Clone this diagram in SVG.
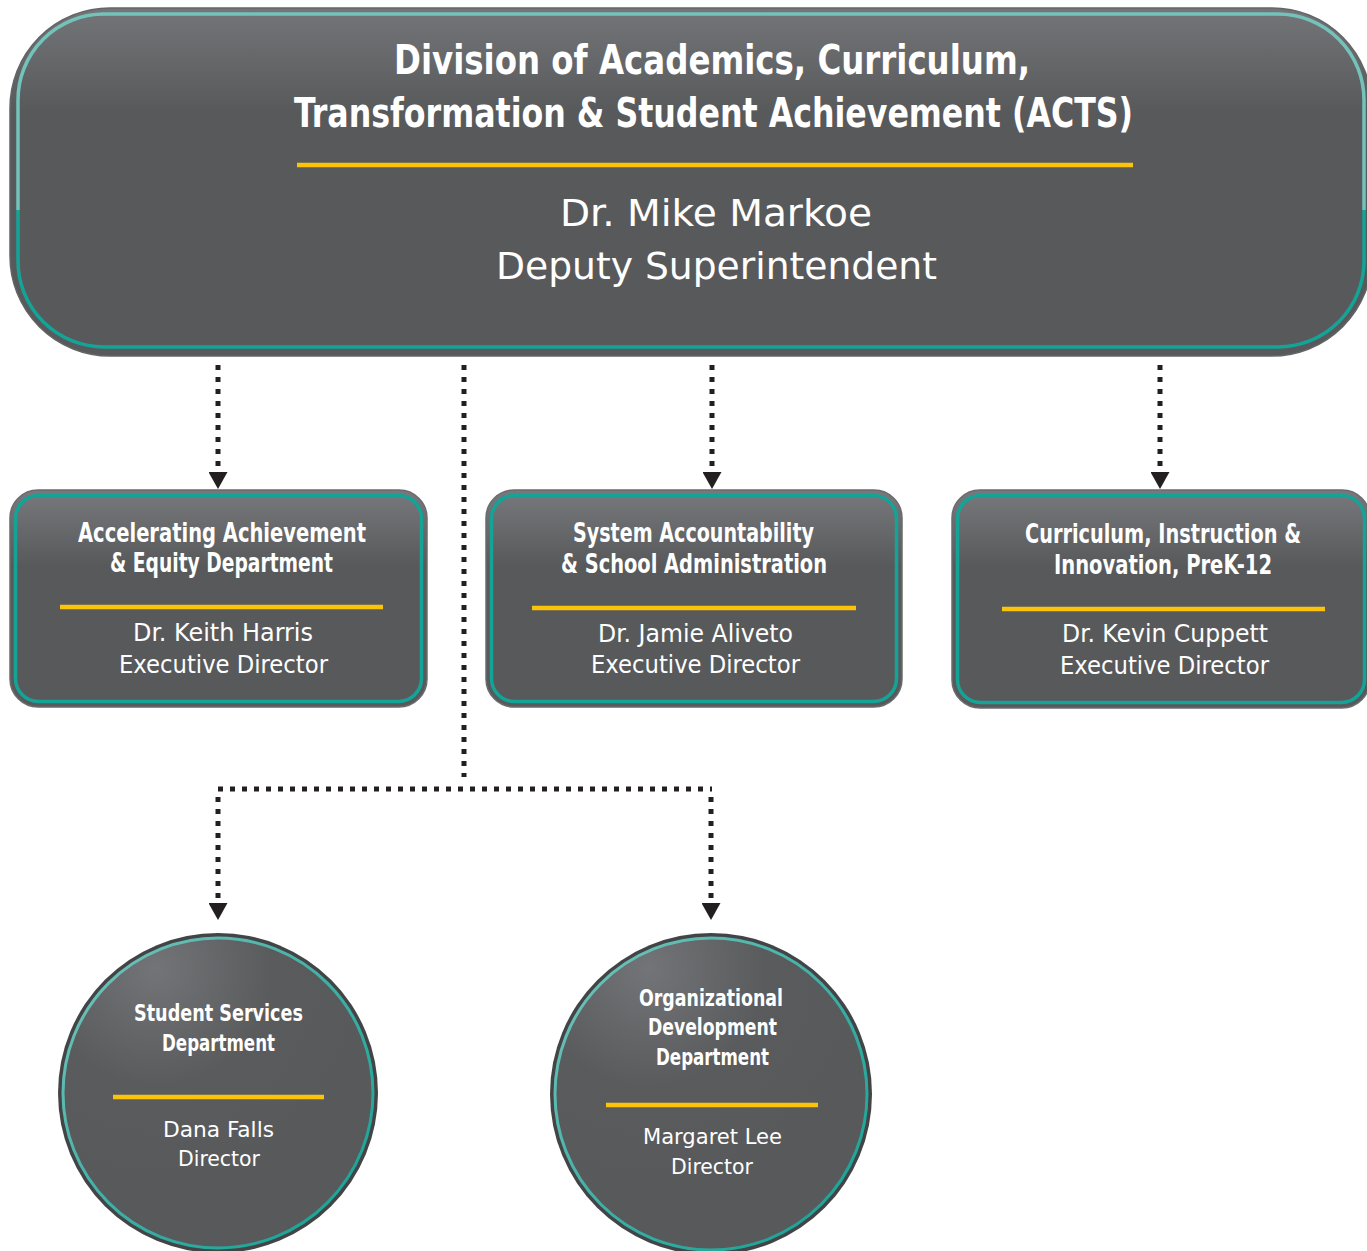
<svg xmlns="http://www.w3.org/2000/svg" width="1367" height="1251" viewBox="0 0 1367 1251">
<defs>
<linearGradient id="gBig" x1="0" y1="0" x2="0" y2="1">
<stop offset="0" stop-color="#747578"/>
<stop offset="0.3" stop-color="#58595b"/>
<stop offset="1" stop-color="#58595b"/>
</linearGradient>
<linearGradient id="gBox" x1="0" y1="0" x2="0" y2="1">
<stop offset="0" stop-color="#78797c"/>
<stop offset="0.35" stop-color="#58595b"/>
<stop offset="1" stop-color="#58595b"/>
</linearGradient>
<linearGradient id="tealBig" x1="0" y1="0" x2="0" y2="1">
<stop offset="0" stop-color="#74c3ba"/>
<stop offset="0.59" stop-color="#74c3ba"/>
<stop offset="0.59" stop-color="#14a397"/>
<stop offset="1" stop-color="#14a397"/>
</linearGradient>
<radialGradient id="gCirc" cx="0.3" cy="0.1" r="0.75">
<stop offset="0" stop-color="#737477"/>
<stop offset="0.5" stop-color="#5a5b5d"/>
<stop offset="1" stop-color="#58595b"/>
</radialGradient>
<linearGradient id="tealCirc" x1="0" y1="0" x2="1" y2="1">
<stop offset="0" stop-color="#78c4bb"/>
<stop offset="0.5" stop-color="#3fb0a6"/>
<stop offset="1" stop-color="#0fa194"/>
</linearGradient>
<marker id="arr" viewBox="0 0 17 19" refX="0" refY="9.5" markerWidth="17" markerHeight="19" markerUnits="userSpaceOnUse" orient="auto">
<polygon points="0,0 17,9.5 0,19" fill="#231f20"/>
</marker>
<style>
.bold{font-family:"Liberation Sans Narrow","DejaVu Sans Condensed","Liberation Sans",sans-serif;font-weight:bold;fill:#ffffff;text-anchor:middle}
.reg{font-family:"Liberation Sans Narrow","DejaVu Sans Condensed","Liberation Sans",sans-serif;font-weight:normal;fill:#ffffff;text-anchor:middle}
.bar{stroke:#fcc30b;stroke-width:4.5}
.boxOuter{fill:url(#gBox);stroke:#6a6b6e;stroke-width:1.5}
.boxInner{fill:none;stroke:#14a397;stroke-width:3.5}
.circOuter{fill:#434446}
.circInner{fill:url(#gCirc);stroke:url(#tealCirc);stroke-width:3}
.dot{fill:none;stroke:#231f20;stroke-width:5;stroke-dasharray:5 7}
</style>
</defs>

<g id="connectors">
<path class="dot" d="M218,365 V472" marker-end="url(#arr)"/>
<path class="dot" d="M712,365 V472" marker-end="url(#arr)"/>
<path class="dot" d="M1160,365 V472" marker-end="url(#arr)"/>
<path class="dot" d="M464,365 V777"/>
<path class="dot" d="M218,789 H712"/>
<path class="dot" d="M218,797 V903" marker-end="url(#arr)"/>
<path class="dot" d="M711,797 V903" marker-end="url(#arr)"/>
</g>

<g id="acts">
<rect x="10" y="8" width="1362" height="348" rx="100" fill="url(#gBig)" stroke="#636466" stroke-width="1.5"/>
<rect x="18" y="14" width="1346" height="333" rx="86" fill="none" stroke="url(#tealBig)" stroke-width="3.5"/>
<text class="bold" x="712" y="74" font-size="41" textLength="636" lengthAdjust="spacingAndGlyphs">Division of Academics, Curriculum,</text>
<text class="bold" x="713.5" y="127" font-size="41" textLength="839" lengthAdjust="spacingAndGlyphs">Transformation &amp; Student Achievement (ACTS)</text>
<line class="bar" x1="297" y1="165" x2="1133" y2="165"/>
<text class="reg" x="716" y="226" font-size="38" textLength="312" lengthAdjust="spacingAndGlyphs">Dr. Mike Markoe</text>
<text class="reg" x="716.5" y="279" font-size="38" textLength="441" lengthAdjust="spacingAndGlyphs">Deputy Superintendent</text>
</g>

<g id="accelerating">
<rect class="boxOuter" x="10" y="490" width="417" height="217" rx="28"/>
<rect class="boxInner" x="15.5" y="495.5" width="406" height="206" rx="23"/>
<text class="bold" x="222" y="542" font-size="26" textLength="288" lengthAdjust="spacingAndGlyphs">Accelerating Achievement</text>
<text class="bold" x="221.5" y="572" font-size="26" textLength="223" lengthAdjust="spacingAndGlyphs">&amp; Equity Department</text>
<line class="bar" x1="60" y1="607" x2="383" y2="607"/>
<text class="reg" x="223" y="641" font-size="25" textLength="180" lengthAdjust="spacingAndGlyphs">Dr. Keith Harris</text>
<text class="reg" x="223.5" y="673" font-size="25" textLength="209" lengthAdjust="spacingAndGlyphs">Executive Director</text>
</g>

<g id="system">
<rect class="boxOuter" x="486" y="490" width="416" height="217" rx="28"/>
<rect class="boxInner" x="491.5" y="495.5" width="405" height="206" rx="23"/>
<text class="bold" x="693.5" y="542" font-size="26" textLength="241" lengthAdjust="spacingAndGlyphs">System Accountability</text>
<text class="bold" x="694" y="573" font-size="26" textLength="266" lengthAdjust="spacingAndGlyphs">&amp; School Administration</text>
<line class="bar" x1="532" y1="608" x2="856" y2="608"/>
<text class="reg" x="695.5" y="642" font-size="25" textLength="195" lengthAdjust="spacingAndGlyphs">Dr. Jamie Aliveto</text>
<text class="reg" x="695.5" y="673" font-size="25" textLength="209" lengthAdjust="spacingAndGlyphs">Executive Director</text>
</g>

<g id="curriculum">
<rect class="boxOuter" x="952" y="490" width="418" height="218" rx="28"/>
<rect class="boxInner" x="957.5" y="495.5" width="407" height="207" rx="23"/>
<text class="bold" x="1163" y="543" font-size="26" textLength="276" lengthAdjust="spacingAndGlyphs">Curriculum, Instruction &amp;</text>
<text class="bold" x="1163" y="574" font-size="26" textLength="218" lengthAdjust="spacingAndGlyphs">Innovation, PreK-12</text>
<line class="bar" x1="1002" y1="609" x2="1325" y2="609"/>
<text class="reg" x="1165" y="642" font-size="25" textLength="206" lengthAdjust="spacingAndGlyphs">Dr. Kevin Cuppett</text>
<text class="reg" x="1164.5" y="674" font-size="25" textLength="209" lengthAdjust="spacingAndGlyphs">Executive Director</text>
</g>

<g id="studentServices">
<circle class="circOuter" cx="218" cy="1093" r="160"/>
<circle class="circInner" cx="218" cy="1093" r="155"/>
<text class="bold" x="218.5" y="1021" font-size="22.5" textLength="169" lengthAdjust="spacingAndGlyphs">Student Services</text>
<text class="bold" x="218.5" y="1051" font-size="22.5" textLength="113" lengthAdjust="spacingAndGlyphs">Department</text>
<line class="bar" x1="113" y1="1097" x2="324" y2="1097"/>
<text class="reg" x="218.5" y="1137" font-size="22" textLength="111" lengthAdjust="spacingAndGlyphs">Dana Falls</text>
<text class="reg" x="219" y="1166" font-size="22" textLength="82" lengthAdjust="spacingAndGlyphs">Director</text>
</g>

<g id="orgDevelopment">
<circle class="circOuter" cx="711" cy="1094" r="161"/>
<circle class="circInner" cx="711" cy="1094" r="156"/>
<text class="bold" x="711" y="1006" font-size="22.5" textLength="144" lengthAdjust="spacingAndGlyphs">Organizational</text>
<text class="bold" x="712.5" y="1035" font-size="22.5" textLength="129" lengthAdjust="spacingAndGlyphs">Development</text>
<text class="bold" x="712.5" y="1065" font-size="22.5" textLength="113" lengthAdjust="spacingAndGlyphs">Department</text>
<line class="bar" x1="606" y1="1105" x2="818" y2="1105"/>
<text class="reg" x="712.5" y="1144" font-size="22" textLength="139" lengthAdjust="spacingAndGlyphs">Margaret Lee</text>
<text class="reg" x="712" y="1174" font-size="22" textLength="82" lengthAdjust="spacingAndGlyphs">Director</text>
</g>
</svg>
